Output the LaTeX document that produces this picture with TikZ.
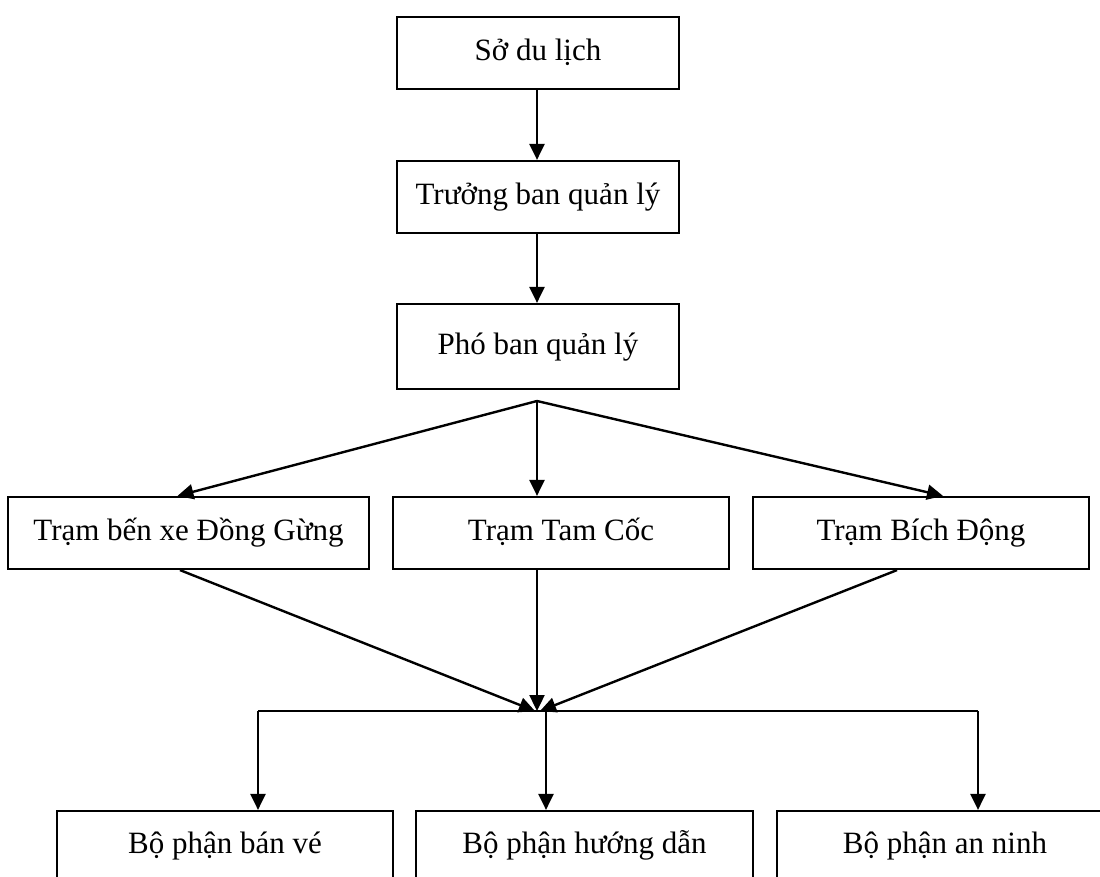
\documentclass[tikz,border=0pt]{standalone}
\usepackage{fontspec}
\setmainfont{Liberation Serif}
\usetikzlibrary{arrows.meta,calc}
\begin{document}
\begin{tikzpicture}[x=1pt,y=-1pt,
  box/.style={draw,line width=2.2pt,inner sep=0pt,text height=22pt,text depth=7pt,
    font=\fontsize{31}{37}\selectfont},
  link/.style={line width=2.4pt},
  arr/.style={line width=2.4pt,-{Triangle[length=16pt,width=15pt]}}]
\useasboundingbox (0,0) rectangle (1100,877);
\clip (0,0) rectangle (1100,877);
\fill[white] (0,0) rectangle (1100,877);
% top column
\node[box,minimum width=282pt,minimum height=72pt] (s1) at (538,53) {Sở du lịch};
\node[box,minimum width=282pt,minimum height=72pt] (s2) at (538,197) {Trưởng ban quản lý};
\node[box,minimum width=282pt,minimum height=85pt] (s3) at (538,346.5) {Phó ban quản lý};
% middle row
\node[box,minimum width=361pt,minimum height=72pt] (m1) at (188.5,533) {Trạm bến xe Đồng Gừng};
\node[box,minimum width=336pt,minimum height=72pt] (m2) at (561,533) {Trạm Tam Cốc};
\node[box,minimum width=336pt,minimum height=72pt] (m3) at (921,533) {Trạm Bích Động};
% bottom row
\node[box,minimum width=336pt,minimum height=69pt] (b1) at (225,845.5) {Bộ phận bán vé};
\node[box,minimum width=337pt,minimum height=69pt] (b2) at (584.5,845.5) {Bộ phận hướng dẫn};
\node[box,minimum width=336pt,minimum height=69pt] (b3) at (945,845.5) {Bộ phận an ninh};
% junction points
\coordinate (fan) at (537,401);
\coordinate (cl) at (535,711);
\coordinate (cm) at (537,711);
\coordinate (cr) at (540,711);
\coordinate (hl) at (258,711);
\coordinate (hm) at (546,711);
\coordinate (hr) at (978,711);
% connectors
\draw[arr] ([xshift=-1pt]s1.south) -- ([xshift=-1pt]s2.north);
\draw[arr] ([xshift=-1pt]s2.south) -- ([xshift=-1pt]s3.north);
\draw[arr] (fan) -- ([xshift=-11pt]m1.north);
\draw[arr] (fan) -- (fan |- m2.north);
\draw[arr] (fan) -- ([xshift=22pt]m3.north);
\draw[arr] ([xshift=-8.5pt]m1.south) -- (cl);
\draw[arr] (cm |- m2.south) -- (cm);
\draw[arr] ([xshift=-24pt]m3.south) -- (cr);
\draw[link] (hl) -- (hr);
\draw[arr] (hl) -- (hl |- b1.north);
\draw[arr] (hm) -- (hm |- b2.north);
\draw[arr] (hr) -- (hr |- b3.north);
\end{tikzpicture}
\end{document}
